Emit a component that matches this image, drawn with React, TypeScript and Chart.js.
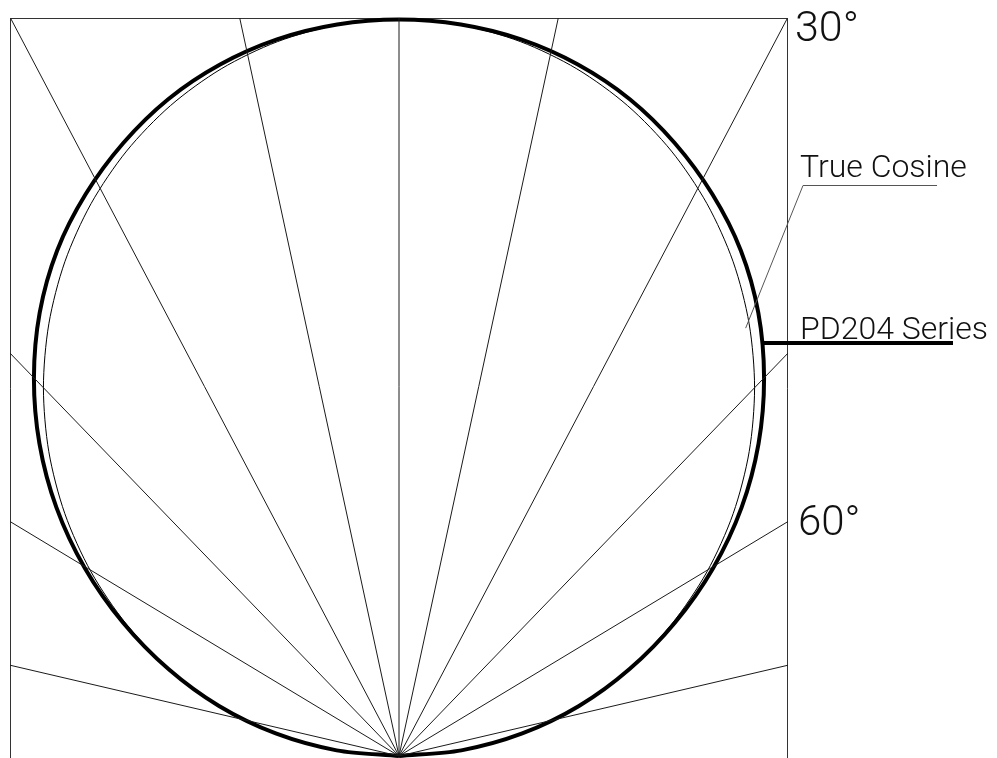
import React, { useEffect, useRef } from "react";
import { Chart, registerables } from "chart.js";

Chart.register(...registerables);

// Angle of incidence (degrees from normal)
const angles = [
  -90, -85, -80, -75, -70, -65, -60, -55, -50, -45, -40, -35, -30, -25, -20, -15, -10, -5,
  0, 5, 10, 15, 20, 25, 30, 35, 40, 45, 50, 55, 60, 65, 70, 75, 80, 85, 90,
];

// Relative response of an ideal cosine detector
const trueCosine = [
  0, 0.0872, 0.1736, 0.2588, 0.342, 0.4226, 0.5, 0.5736, 0.6428, 0.7071, 0.766, 0.8192, 0.866,
  0.9063, 0.9397, 0.9659, 0.9848, 0.9962, 1, 0.9962, 0.9848, 0.9659, 0.9397, 0.9063, 0.866,
  0.8192, 0.766, 0.7071, 0.6428, 0.5736, 0.5, 0.4226, 0.342, 0.2588, 0.1736, 0.0872, 0,
];

// Measured relative response of the PD204 series
const pd204 = [
  0, 0.088, 0.176, 0.262, 0.345, 0.428, 0.51, 0.588, 0.66, 0.726, 0.786, 0.838, 0.881, 0.918,
  0.949, 0.972, 0.988, 0.997, 1, 0.997, 0.988, 0.972, 0.949, 0.918, 0.881, 0.838, 0.786, 0.726,
  0.66, 0.588, 0.51, 0.428, 0.345, 0.262, 0.176, 0.088, 0,
];

// Radial guide lines (degrees)
const rayAngles = [-77.3, -59.8, -45, -28.6, -12.6, 0, 12.6, 28.6, 45, 59.8, 77.3];

const angleLabels = ["30°", "60°"];
const seriesNames = ["True Cosine", "PD204 Series"];

const X_MAX = 0.547;
const Y_MAX = 1.002;

const rad = (d: number) => (d * Math.PI) / 180;
const toXY = (deg: number, r: number) => ({ x: r * Math.sin(rad(deg)), y: r * Math.cos(rad(deg)) });

const FONT = "'Roboto', 'Liberation Sans', sans-serif";

const annotations = {
  id: "annotations",
  beforeDatasetsDraw(chart: any) {
    const { ctx, chartArea } = chart;
    const { left, top, right } = chartArea;
    const H = chart.height;
    ctx.save();
    ctx.strokeStyle = "#333";
    ctx.lineWidth = 1;
    ctx.beginPath();
    ctx.moveTo(left + 0.5, H);
    ctx.lineTo(left + 0.5, top + 0.5);
    ctx.lineTo(right - 0.5, top + 0.5);
    ctx.lineTo(right - 0.5, H);
    ctx.stroke();
    ctx.restore();
  },
  afterDatasetsDraw(chart: any) {
    const { ctx, chartArea, scales } = chart;
    const { right } = chartArea;
    ctx.save();
    ctx.fillStyle = "#111";
    ctx.textAlign = "left";
    ctx.textBaseline = "alphabetic";
    ctx.font = `300 43px ${FONT}`;
    ctx.fillText(angleLabels[0], right + 7, 41);
    ctx.font = `300 42px ${FONT}`;
    ctx.fillText(angleLabels[1], right + 10, 535);
    ctx.font = `300 32px ${FONT}`;
    ctx.fillText(seriesNames[0], right + 12, 177);
    ctx.fillText(seriesNames[1], right + 12, 339);

    // True cosine leader
    const i = angles.indexOf(40);
    const p = toXY(angles[i], trueCosine[i] * 0.99);
    const ax = scales.x.getPixelForValue(p.x);
    const ay = scales.y.getPixelForValue(p.y);
    ctx.strokeStyle = "#555";
    ctx.lineWidth = 1;
    ctx.beginPath();
    ctx.moveTo(right + 149, 185.5);
    ctx.lineTo(right + 15, 185.5);
    ctx.lineTo(ax, ay);
    ctx.stroke();

    // PD204 leader
    ctx.strokeStyle = "#000";
    ctx.lineWidth = 4;
    ctx.beginPath();
    ctx.moveTo(right - 26, 343);
    ctx.lineTo(right + 165, 343);
    ctx.stroke();
    ctx.restore();
  },
};

export default function App() {
  const ref = useRef<HTMLCanvasElement | null>(null);

  useEffect(() => {
    if (!ref.current) return;
    const rays = rayAngles.map((a) => ({
      data: [toXY(a, 0), toXY(a, 3)],
      showLine: true,
      borderColor: "#1a1a1a",
      borderWidth: 1,
      pointRadius: 0,
    }));
    const chart = new Chart(ref.current, {
      type: "scatter",
      data: {
        datasets: [
          ...rays,
          {
            label: seriesNames[0],
            data: angles.map((a, k) => toXY(a, trueCosine[k])),
            showLine: true,
            borderColor: "#000",
            borderWidth: 1,
            pointRadius: 0,
            tension: 0.3,
            clip: false,
          },
          {
            label: seriesNames[1],
            data: angles.map((a, k) => toXY(a, pd204[k])),
            showLine: true,
            borderColor: "#000",
            borderWidth: 4,
            pointRadius: 0,
            tension: 0.3,
            clip: false,
          },
        ] as any,
      },
      options: {
        responsive: false,
        animation: false,
        events: [],
        layout: { padding: { left: 10, right: 209, top: 18, bottom: 2 } },
        plugins: { legend: { display: false }, tooltip: { enabled: false }, title: { display: false } },
        scales: {
          x: { type: "linear", min: -X_MAX, max: X_MAX, display: false },
          y: { type: "linear", min: 0, max: Y_MAX, display: false },
        },
      },
      plugins: [annotations],
    });
    return () => chart.destroy();
  }, []);

  return (
    <div style={{ position: "absolute", left: 0, top: 0, width: 997, height: 758, background: "#fff" }}>
      <canvas ref={ref} width={997} height={758} style={{ display: "block" }} />
    </div>
  );
}
